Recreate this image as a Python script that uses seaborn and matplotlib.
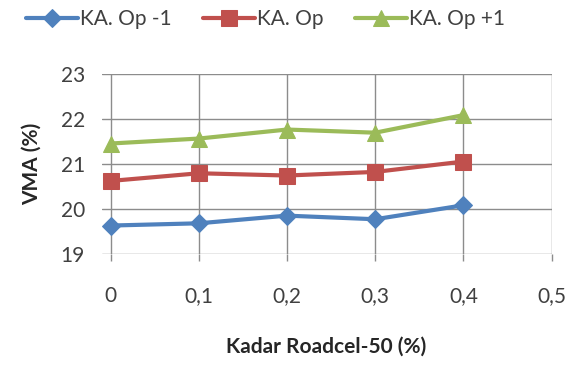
import numpy as np
import pandas as pd
import matplotlib
matplotlib.use("Agg")
import matplotlib.pyplot as plt
import seaborn as sns

# Roadcel-50 content (%) and VMA (%) for each asphalt content series
kadar = [0, 0.1, 0.2, 0.3, 0.4]
vma_op_minus = [19.64, 19.69, 19.86, 19.78, 20.09]
vma_op = [20.63, 20.80, 20.75, 20.83, 21.06]
vma_op_plus = [21.46, 21.57, 21.77, 21.70, 22.09]
series_names = ["KA. Op -1", "KA. Op", "KA. Op +1"]
x_ticks = [0, 0.1, 0.2, 0.3, 0.4, 0.5]
x_tick_labels = ["0", "0,1", "0,2", "0,3", "0,4", "0,5"]
y_ticks = [19, 20, 21, 22, 23]

df = pd.DataFrame({
    "kadar": kadar * 3,
    "vma": vma_op_minus + vma_op + vma_op_plus,
    "seri": sum([[n] * len(kadar) for n in series_names], []),
})

sns.set_theme(style="white")
plt.rcParams["font.family"] = ["Lato", "DejaVu Sans"]

colors = {"KA. Op -1": "#4F81BD", "KA. Op": "#C0504D", "KA. Op +1": "#9BBB59"}
markers = {"KA. Op -1": "D", "KA. Op": "s", "KA. Op +1": "^"}
sizes = {"KA. Op -1": 9, "KA. Op": 11, "KA. Op +1": 11}

fig = plt.figure(figsize=(5.71, 3.65), dpi=100)
ax = fig.add_axes([0.178, 0.303, 0.788, 0.494])

for name in series_names:
    sub = df[df["seri"] == name]
    sns.lineplot(data=sub, x="kadar", y="vma", ax=ax, color=colors[name],
                 marker=markers[name], markersize=sizes[name],
                 markeredgecolor=colors[name], linewidth=3, label=name)

ax.set_xlim(-0.0102, 0.5)
ax.set_ylim(19, 23)
ax.set_xticks(x_ticks)
ax.set_xticklabels(x_tick_labels)
ax.set_yticks(y_ticks)
ax.grid(True, color="#8c8c8c", linewidth=1)
for s in ax.spines.values():
    s.set_visible(False)
ax.tick_params(axis="x", length=5, width=1, color="#8c8c8c", pad=18,
               labelsize=15, labelcolor="#404040", bottom=True)
ax.tick_params(axis="y", length=0, pad=12, labelsize=15, labelcolor="#404040")
ax.set_xlabel("Kadar Roadcel-50 (%)", fontsize=15, fontweight="bold",
              color="#262626", labelpad=22)
ax.set_ylabel("VMA (%)", fontsize=15, fontweight="bold", color="#262626",
              labelpad=14)

handles, labels = ax.get_legend_handles_labels()
ax.get_legend().remove()
leg = fig.legend(handles, labels, loc="center left",
                 bbox_to_anchor=(0.045, 0.948), ncol=3, frameon=False,
                 fontsize=15, handlelength=2.5, handletextpad=0.1,
                 columnspacing=1.5, borderaxespad=0, borderpad=0)
for t in leg.get_texts():
    t.set_color("#404040")

fig.savefig("out.png", dpi=100)
